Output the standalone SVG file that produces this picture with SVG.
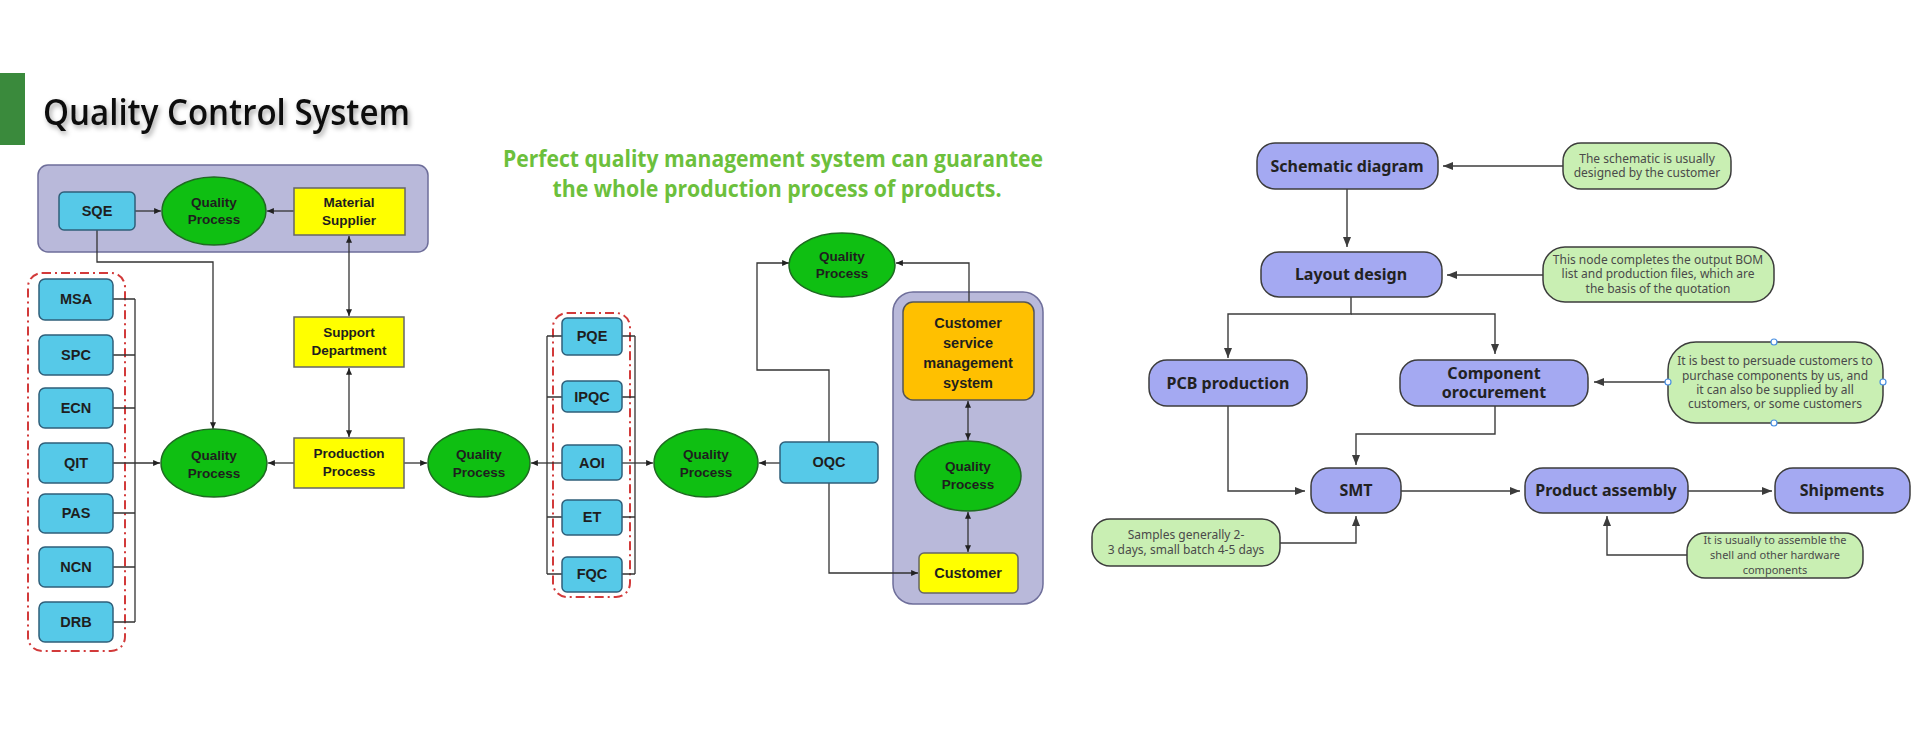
<svg xmlns="http://www.w3.org/2000/svg" width="1920" height="754" viewBox="0 0 1920 754">
<defs>
<marker id="a" viewBox="0 0 8 7" refX="8" refY="3.5" markerWidth="7" markerHeight="6" markerUnits="userSpaceOnUse" orient="auto-start-reverse"><path d="M0,0 L8,3.5 L0,7 z" fill="#222"/></marker>
<marker id="b" viewBox="0 0 10 8" refX="10" refY="4" markerWidth="10" markerHeight="8" markerUnits="userSpaceOnUse" orient="auto-start-reverse"><path d="M0,0 L10,4 L0,8 z" fill="#3c3c3c"/></marker>
<filter id="sh" x="-5%" y="-20%" width="110%" height="160%"><feDropShadow dx="2" dy="3" stdDeviation="2.5" flood-color="#000" flood-opacity="0.35"/></filter>
<style>
.cont{fill:#b9b9da;stroke:#6e6e9a;stroke-width:1.5}
.red{fill:none;stroke:#d23a3a;stroke-width:2;stroke-dasharray:9 4 2 4}
.cy{fill:#56c9e8;stroke:#2f5f7a;stroke-width:1.5}
.el{fill:#0fbf12;stroke:#1f6a22;stroke-width:1.5}
.ye{fill:#ffff00;stroke:#666;stroke-width:1.5}
.or{fill:#ffc000;stroke:#555;stroke-width:1.5}
.lt{font-family:"Liberation Sans",Arial,sans-serif;font-weight:bold;fill:#1e1e1e;text-anchor:middle}
.s14{font-size:14.5px}.s13{font-size:13.5px}
.ln{fill:none;stroke:#333;stroke-width:1.3}
.ln2{fill:none;stroke:#3c3c3c;stroke-width:1.4}
.nd{fill:#a4a9f2;stroke:#3c3c3c;stroke-width:1.5}
.nt{fill:#c9efb3;stroke:#3c3c3c;stroke-width:1.5}
.rt{font-family:"Noto Sans","Open Sans",sans-serif;font-weight:bold;font-size:16px;fill:#222;text-anchor:middle}
.nx{font-family:"Noto Sans","Open Sans",sans-serif;font-size:12px;fill:#4a4a4a;text-anchor:middle}
.nx11{font-size:11px}
.hd{fill:#fff;stroke:#4a90e2;stroke-width:1.2}
</style>
</defs>

<g id="header">
<rect x="0" y="73" width="25" height="72" fill="#3a8a3c"/>
<text x="43" y="125" font-family="Open Sans,sans-serif" font-weight="600" font-size="36" fill="#111" textLength="367" lengthAdjust="spacingAndGlyphs" filter="url(#sh)">Quality Control System</text>
<text font-family="Open Sans,sans-serif" font-weight="bold" font-size="24" fill="#6cc03c" text-anchor="middle"><tspan x="773" y="167" textLength="540" lengthAdjust="spacingAndGlyphs">Perfect quality management system can guarantee</tspan><tspan x="777" y="197" textLength="449" lengthAdjust="spacingAndGlyphs">the whole production process of products.</tspan></text>
</g>

<g id="containers">
<rect class="cont" x="38" y="165" width="390" height="87" rx="10"/>
<rect class="cont" x="893" y="292" width="150" height="312" rx="20"/>
<rect class="red" x="28" y="273" width="97" height="378" rx="14"/>
<rect class="red" x="553" y="313" width="77" height="284" rx="14"/>
</g>

<g id="connectors-left">
<path class="ln" d="M135,211 H161" marker-end="url(#a)"/>
<path class="ln" d="M294,211 H267" marker-end="url(#a)"/>
<path class="ln" d="M97,230 V262 H213 V429" marker-end="url(#a)"/>
<path class="ln" d="M349,236 V316" marker-start="url(#a)" marker-end="url(#a)"/>
<path class="ln" d="M349,368 V437" marker-start="url(#a)" marker-end="url(#a)"/>
<path class="ln" d="M294,463 H268" marker-end="url(#a)"/>
<path class="ln" d="M404,463 H427" marker-end="url(#a)"/>
<path class="ln" d="M135,299 V622 M113,299 H135 M113,355 H135 M113,408 H135 M113,513 H135 M113,567 H135 M113,622 H135"/>
<path class="ln" d="M113,463 H160" marker-end="url(#a)"/>
<path class="ln" d="M547,336 V574 M635,336 V574 M562,336 H547 M562,397 H547 M562,517 H547 M562,574 H547 M622,336 H635 M622,397 H635 M622,517 H635 M622,574 H635"/>
<path class="ln" d="M562,463 H531" marker-end="url(#a)"/>
<path class="ln" d="M622,463 H653" marker-end="url(#a)"/>
<path class="ln" d="M780,463 H759" marker-end="url(#a)"/>
<path class="ln" d="M829,442 V370 H757 V263 H789" marker-end="url(#a)"/>
<path class="ln" d="M969,302 V263 H896" marker-end="url(#a)"/>
<path class="ln" d="M968,401 V440" marker-start="url(#a)" marker-end="url(#a)"/>
<path class="ln" d="M968,512 V552" marker-start="url(#a)" marker-end="url(#a)"/>
<path class="ln" d="M829,483 V573 H918" marker-end="url(#a)"/>
</g>

<g id="sqe"><rect class="cy" x="59" y="192" width="76" height="38" rx="5"/><text class="lt s14" x="97" y="216">SQE</text></g>
<g id="qp1"><ellipse class="el" cx="214" cy="211" rx="52" ry="34"/><text class="lt s13" x="214" y="207">Quality</text><text class="lt s13" x="214" y="224">Process</text></g>
<g id="material-supplier"><rect class="ye" x="294" y="188" width="111" height="47"/><text class="lt s13" x="349" y="207">Material</text><text class="lt s13" x="349" y="225">Supplier</text></g>
<g id="support-department"><rect class="ye" x="294" y="317" width="110" height="50"/><text class="lt s13" x="349" y="337">Support</text><text class="lt s13" x="349" y="355">Department</text></g>
<g id="production-process"><rect class="ye" x="294" y="438" width="110" height="50"/><text class="lt s13" x="349" y="458">Production</text><text class="lt s13" x="349" y="476">Process</text></g>
<g id="qp-left"><ellipse class="el" cx="214" cy="463" rx="53" ry="34"/><text class="lt s13" x="214" y="460">Quality</text><text class="lt s13" x="214" y="478">Process</text></g>
<g id="qp2"><ellipse class="el" cx="479" cy="463" rx="51" ry="34"/><text class="lt s13" x="479" y="459">Quality</text><text class="lt s13" x="479" y="477">Process</text></g>
<g id="qp3"><ellipse class="el" cx="706" cy="463" rx="52" ry="34"/><text class="lt s13" x="706" y="459">Quality</text><text class="lt s13" x="706" y="477">Process</text></g>
<g id="qp4"><ellipse class="el" cx="842" cy="265" rx="53" ry="32"/><text class="lt s13" x="842" y="261">Quality</text><text class="lt s13" x="842" y="278">Process</text></g>
<g id="qp5"><ellipse class="el" cx="968" cy="476" rx="53" ry="35"/><text class="lt s13" x="968" y="471">Quality</text><text class="lt s13" x="968" y="489">Process</text></g>

<g id="msa"><rect class="cy" x="39" y="279" width="74" height="41" rx="6"/><text class="lt s14" x="76" y="304">MSA</text></g>
<g id="spc"><rect class="cy" x="39" y="335" width="74" height="40" rx="6"/><text class="lt s14" x="76" y="360">SPC</text></g>
<g id="ecn"><rect class="cy" x="39" y="388" width="74" height="40" rx="6"/><text class="lt s14" x="76" y="413">ECN</text></g>
<g id="qit"><rect class="cy" x="39" y="443" width="74" height="40" rx="6"/><text class="lt s14" x="76" y="468">QIT</text></g>
<g id="pas"><rect class="cy" x="39" y="494" width="74" height="39" rx="6"/><text class="lt s14" x="76" y="518">PAS</text></g>
<g id="ncn"><rect class="cy" x="39" y="547" width="74" height="40" rx="6"/><text class="lt s14" x="76" y="572">NCN</text></g>
<g id="drb"><rect class="cy" x="39" y="602" width="74" height="40" rx="6"/><text class="lt s14" x="76" y="627">DRB</text></g>

<g id="pqe"><rect class="cy" x="562" y="318" width="60" height="37" rx="5"/><text class="lt s14" x="592" y="341">PQE</text></g>
<g id="ipqc"><rect class="cy" x="562" y="381" width="60" height="31" rx="5"/><text class="lt s14" x="592" y="402">IPQC</text></g>
<g id="aoi"><rect class="cy" x="562" y="445" width="60" height="35" rx="5"/><text class="lt s14" x="592" y="468">AOI</text></g>
<g id="et"><rect class="cy" x="562" y="500" width="60" height="35" rx="5"/><text class="lt s14" x="592" y="522">ET</text></g>
<g id="fqc"><rect class="cy" x="562" y="557" width="60" height="35" rx="5"/><text class="lt s14" x="592" y="579">FQC</text></g>

<g id="oqc"><rect class="cy" x="780" y="442" width="98" height="41" rx="5"/><text class="lt s14" x="829" y="467">OQC</text></g>
<g id="csms"><rect class="or" x="903" y="302" width="131" height="98" rx="10"/><text class="lt s14" x="968" y="328">Customer</text><text class="lt s14" x="968" y="348">service</text><text class="lt s14" x="968" y="368">management</text><text class="lt s14" x="968" y="388">system</text></g>
<g id="customer"><rect class="ye" x="919" y="553" width="99" height="40" rx="5"/><text class="lt s14" x="968" y="578">Customer</text></g>

<g id="connectors-right">
<path class="ln2" d="M1563,166 H1443" marker-end="url(#b)"/>
<path class="ln2" d="M1347,189 V247" marker-end="url(#b)"/>
<path class="ln2" d="M1543,275 H1447" marker-end="url(#b)"/>
<path class="ln2" d="M1351,297 V314 H1228 V358" marker-end="url(#b)"/>
<path class="ln2" d="M1351,314 H1495 V354" marker-end="url(#b)"/>
<path class="ln2" d="M1228,406 V491 H1305" marker-end="url(#b)"/>
<path class="ln2" d="M1495,406 V434 H1356 V465" marker-end="url(#b)"/>
<path class="ln2" d="M1280,543 H1356 V516" marker-end="url(#b)"/>
<path class="ln2" d="M1401,491 H1520" marker-end="url(#b)"/>
<path class="ln2" d="M1688,491 H1772" marker-end="url(#b)"/>
<path class="ln2" d="M1687,555 H1607 V516" marker-end="url(#b)"/>
<path class="ln2" d="M1668,382 H1594" marker-end="url(#b)"/>
</g>

<g id="schematic"><rect class="nd" x="1257" y="143" width="181" height="46" rx="18"/><text class="rt" x="1347" y="172">Schematic diagram</text></g>
<g id="layout"><rect class="nd" x="1261" y="252" width="181" height="45" rx="18"/><text class="rt" x="1351" y="280">Layout design</text></g>
<g id="pcb"><rect class="nd" x="1149" y="360" width="158" height="46" rx="18"/><text class="rt" x="1228" y="389">PCB production</text></g>
<g id="component"><rect class="nd" x="1400" y="360" width="188" height="46" rx="18"/><text class="rt" x="1494" y="379">Component</text><text class="rt" x="1494" y="398">orocurement</text></g>
<g id="smt"><rect class="nd" x="1311" y="468" width="90" height="45" rx="18"/><text class="rt" x="1356" y="496">SMT</text></g>
<g id="assembly"><rect class="nd" x="1525" y="468" width="163" height="45" rx="18"/><text class="rt" x="1606" y="496">Product assembly</text></g>
<g id="shipments"><rect class="nd" x="1775" y="468" width="135" height="45" rx="18"/><text class="rt" x="1842" y="496">Shipments</text></g>

<g id="note1"><rect class="nt" x="1563" y="143" width="168" height="46" rx="18"/><text class="nx" x="1647" y="163">The schematic is usually</text><text class="nx" x="1647" y="177">designed by the customer</text></g>
<g id="note2"><rect class="nt" x="1543" y="247" width="231" height="55" rx="22"/><text class="nx" x="1658" y="264">This node completes the output BOM</text><text class="nx" x="1658" y="278">list and production files, which are</text><text class="nx" x="1658" y="293">the basis of the quotation</text></g>
<g id="note3"><rect class="nt" x="1668" y="342" width="215" height="81" rx="28"/><text class="nx" x="1775" y="365">It is best to persuade customers to</text><text class="nx" x="1775" y="380">purchase components by us, and</text><text class="nx" x="1775" y="394">it can also be supplied by all</text><text class="nx" x="1775" y="408">customers, or some customers</text>
<circle class="hd" cx="1774" cy="342" r="3"/><circle class="hd" cx="1774" cy="423" r="3"/><circle class="hd" cx="1668" cy="382" r="3"/><circle class="hd" cx="1883" cy="382" r="3"/></g>
<g id="note4"><rect class="nt" x="1092" y="519" width="188" height="47" rx="18"/><text class="nx" x="1186" y="539">Samples generally 2-</text><text class="nx" x="1186" y="554">3 days, small batch 4-5 days</text></g>
<g id="note5"><rect class="nt" x="1687" y="533" width="176" height="45" rx="18"/><text class="nx nx11" x="1775" y="544">It is usually to assemble the</text><text class="nx nx11" x="1775" y="559">shell and other hardware</text><text class="nx nx11" x="1775" y="574">components</text></g>
</svg>
